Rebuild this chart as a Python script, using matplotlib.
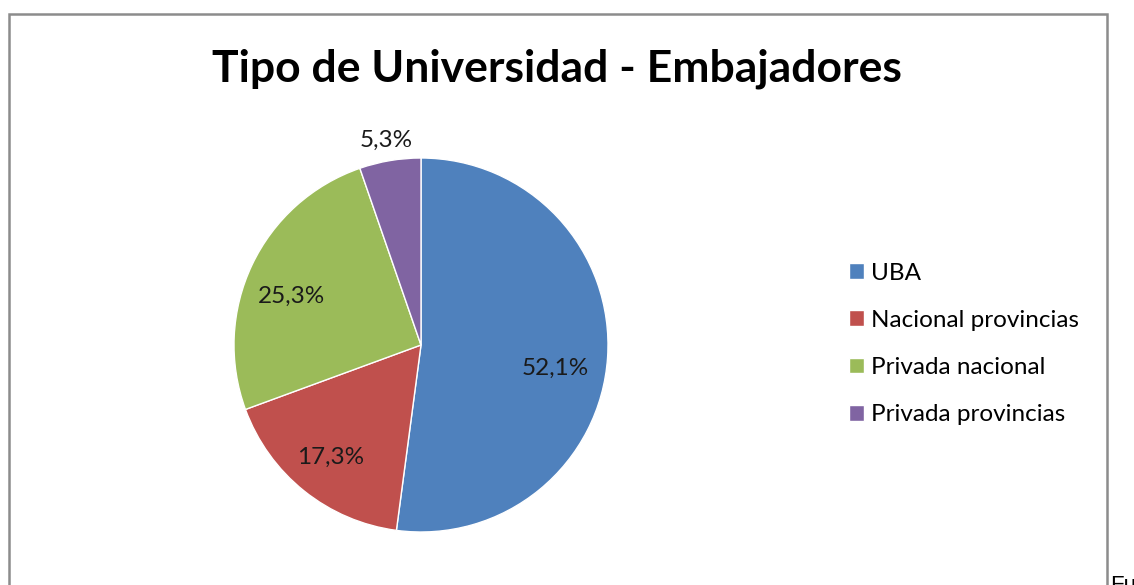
import numpy as np
import matplotlib
matplotlib.use("Agg")
import matplotlib.pyplot as plt
from matplotlib.patches import Rectangle

# Datos del gráfico
categorias = ['UBA', 'Nacional provincias', 'Privada nacional', 'Privada provincias']
valores = [52.1, 17.3, 25.3, 5.3]
etiquetas = ['52,1%', '17,3%', '25,3%', '5,3%']
colores = ['#4F81BD', '#C0504D', '#9BBB59', '#8064A2']

# distancia radial y giro (grados) de cada etiqueta respecto al centro de su sector
dist_etiqueta = [0.73, 0.77, 0.74, 1.11]
giro_etiqueta = [-6, 0, 5, 0]

plt.rcParams['font.family'] = ['Lato', 'DejaVu Sans']

W, H = 1134, 585
fig = plt.figure(figsize=(W / 100, H / 100), dpi=100)

# marco gris del gráfico
fig.patches.append(Rectangle((9 / W, -0.05), (1107 - 9) / W, 1 - 14 / H + 0.05,
                             transform=fig.transFigure, fill=False,
                             edgecolor='#8c8c8c', linewidth=1.8))

fig.text(557 / W, 1 - 69 / H, 'Tipo de Universidad - Embajadores',
         ha='center', va='center', fontsize=32, fontweight='bold', color='black')

# área del pastel: centro (421, 345), radio 187 px
cx, cy, r = 421, 345, 187
ax = fig.add_axes([(cx - r) / W, 1 - (cy + r) / H, 2 * r / W, 2 * r / H])
wedges, _ = ax.pie(valores, colors=colores, startangle=90, counterclock=False,
                   wedgeprops=dict(edgecolor='white', linewidth=1))
ax.set_xlim(-1, 1)
ax.set_ylim(-1, 1)
ax.set_aspect('auto')
ax.axis('off')

for w, txt, d, g in zip(wedges, etiquetas, dist_etiqueta, giro_etiqueta):
    ang = np.deg2rad((w.theta1 + w.theta2) / 2 + g)
    ax.text(d * np.cos(ang), d * np.sin(ang), txt, ha='center', va='center',
            fontsize=17.5, color='#1a1a1a', clip_on=False)

# leyenda
leg = fig.legend(wedges, categorias, loc='center left',
                 bbox_to_anchor=(849 / W, 1 - 344 / H), frameon=False,
                 borderaxespad=0, borderpad=0,
                 fontsize=17.5, handlelength=0.62, handleheight=0.62,
                 handletextpad=0.3, labelspacing=1.08)

# texto recortado en la esquina
fig.text(1110 / W, -0.01, 'Fu', ha='left', va='baseline', fontsize=16,
         family=['Liberation Sans', 'DejaVu Sans'])

fig.savefig('out.png', dpi=100)
